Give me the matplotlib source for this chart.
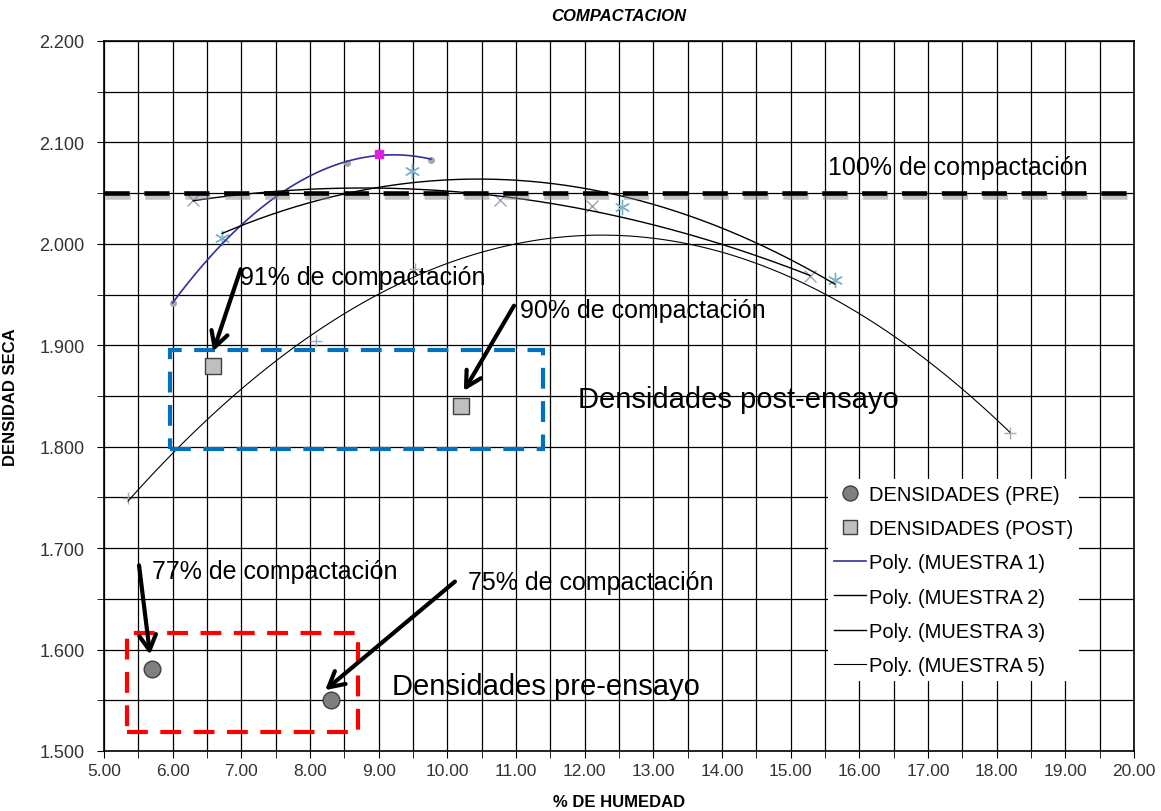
import numpy as np
import matplotlib.pyplot as plt
from matplotlib import patheffects as pe
from matplotlib.patches import Rectangle
from matplotlib.ticker import MultipleLocator, FormatStrFormatter

plt.rcParams['font.family'] = ['Liberation Sans', 'DejaVu Sans']

# ensayos proctor por muestra (% humedad, densidad seca)
m1_x = [6.00, 8.54, 9.00, 9.76]
m1_y = [1.942, 2.080, 2.089, 2.083]
m2_x = [6.30, 10.76, 12.10, 15.28]
m2_y = [2.043, 2.043, 2.037, 1.968]
m3_x = [6.72, 9.48, 12.54, 15.64]
m3_y = [2.006, 2.072, 2.036, 1.964]
m5_x = [5.35, 8.09, 9.53, 18.19]
m5_y = [1.749, 1.904, 1.975, 1.814]

# densidades de campo
pre_x = [5.70, 8.30]
pre_y = [1.581, 1.550]
post_x = [6.59, 10.20]
post_y = [1.880, 1.840]

dens_max = 2.050
pct_pre = [77, 75]
pct_post = [91, 90]


def trend(x, y, deg=2):
    c = np.polyfit(x, y, deg)
    xs = np.linspace(min(x), max(x), 300)
    return xs, np.polyval(c, xs)


fig = plt.figure(figsize=(11.61, 8.12), dpi=100)
ax = fig.add_axes([0.0896, 0.0739, 0.8872, 0.8744])

ax.set_xlim(5, 20)
ax.set_ylim(1.5, 2.2)
ax.xaxis.set_major_locator(MultipleLocator(1))
ax.xaxis.set_minor_locator(MultipleLocator(0.5))
ax.yaxis.set_major_locator(MultipleLocator(0.1))
ax.yaxis.set_minor_locator(MultipleLocator(0.05))
ax.xaxis.set_major_formatter(FormatStrFormatter('%.2f'))
ax.yaxis.set_major_formatter(FormatStrFormatter('%.3f'))
ax.grid(which='both', color='black', lw=0.9, zorder=0)
ax.set_axisbelow(True)
ax.tick_params(which='both', direction='out', length=5, color='black')
ax.tick_params(labelsize=12.5, labelcolor='#333333')
ax.tick_params(axis='y', pad=9, labelsize=13)
for s in ax.spines.values():
    s.set_linewidth(1.2)

# puntos de cada muestra
ax.plot(m1_x, m1_y, 'o', ms=4, color='#a6a6a6', zorder=3)
imax = int(np.argmax(m1_y))
ax.plot(m1_x[imax], m1_y[imax], 's', ms=6, color='#e020e0', zorder=4)
ax.plot(m2_x, m2_y, 'x', ms=9, mew=1, color='#a0a0bc', zorder=3)
ax.plot(m3_x, m3_y, marker=(6, 2, 0), ls='none', ms=11, mew=1, color='#7fb0cc', zorder=3)
ax.plot(m5_x, m5_y, '+', ms=9, mew=1, color='#a8a8bc', zorder=3)

# lineas de tendencia polinomicas
h1, = ax.plot(*trend(m1_x, m1_y), color='#30309a', lw=1.2, zorder=3)
h2, = ax.plot(*trend(m2_x, m2_y), color='black', lw=1.0, zorder=3)
h3, = ax.plot(*trend(m3_x, m3_y), color='black', lw=1.0, zorder=3)
h5, = ax.plot(*trend(m5_x, m5_y), color='black', lw=0.8, zorder=3)

# 100% compactacion
ax.plot([5, 20], [dens_max, dens_max], color='black', lw=3.3,
        ls=(0, (5.5, 3.2)), zorder=5,
        path_effects=[pe.SimpleLineShadow(offset=(1, -3), shadow_color='#888888', alpha=0.5),
                      pe.Normal()])

hpre, = ax.plot(pre_x, pre_y, 'o', ms=12, mfc='#7f7f7f', mec='#404040', mew=1, zorder=6)
hpost, = ax.plot(post_x, post_y, 's', ms=11, mfc='#bfbfbf', mec='#404040', mew=1, zorder=6)

# recuadros
ax.add_patch(Rectangle((5.96, 1.798), 11.39 - 5.96, 1.895 - 1.798, fill=False,
                       ec='#0070c0', lw=3, ls=(0, (5, 3)), zorder=5))
ax.add_patch(Rectangle((5.33, 1.519), 8.70 - 5.33, 1.616 - 1.519, fill=False,
                       ec='#ff0000', lw=3, ls=(0, (5, 3)), zorder=5))

tkw = dict(fontsize=18, va='center', ha='left', zorder=7)
ax.text(15.54, 2.076, '100% de compactación', **tkw)
ax.text(6.98, 1.967, f'{pct_post[0]}% de compactación', **tkw)
ax.text(11.06, 1.935, f'{pct_post[1]}% de compactación', **tkw)
ax.text(5.70, 1.677, f'{pct_pre[0]}% de compactación', **tkw)
ax.text(10.30, 1.667, f'{pct_pre[1]}% de compactación', **tkw)
ax.text(11.90, 1.847, 'Densidades post-ensayo', fontsize=21, va='center', zorder=7)
ax.text(9.19, 1.564, 'Densidades pre-ensayo', fontsize=21, va='center', zorder=7)

aprops = dict(arrowstyle='->,head_length=0.55,head_width=0.3', lw=3, color='black',
              mutation_scale=20, shrinkA=0, shrinkB=0)
ax.annotate('', xy=(post_x[0], 1.894), xytext=(6.99, 1.975), arrowprops=aprops, zorder=7)
ax.annotate('', xy=(post_x[1] + 0.04, 1.855), xytext=(10.97, 1.939), arrowprops=aprops, zorder=7)
ax.annotate('', xy=(pre_x[0] - 0.03, 1.595), xytext=(5.51, 1.683), arrowprops=aprops, zorder=7)
ax.annotate('', xy=(8.22, 1.560), xytext=(10.11, 1.667), arrowprops=aprops, zorder=7)

leg = ax.legend([hpre, hpost, h1, h2, h3, h5],
                ['DENSIDADES (PRE)', 'DENSIDADES (POST)', 'Poly. (MUESTRA 1)',
                 'Poly. (MUESTRA 2)', 'Poly. (MUESTRA 3)', 'Poly. (MUESTRA 5)'],
                loc='upper left', bbox_to_anchor=(0.693, 0.397), fontsize=14.5,
                frameon=True, fancybox=False, edgecolor='none', facecolor='white',
                framealpha=1, handlelength=1.6, handletextpad=0.15, labelspacing=0.75,
                borderpad=0.3, markerscale=0.9)
leg.set_zorder(8)

ax.set_title('COMPACTACION', fontsize=12, fontweight='bold', style='italic', pad=15)
ax.set_xlabel('% DE HUMEDAD', fontsize=12, fontweight='bold', labelpad=12)
ax.set_ylabel('DENSIDAD SECA', fontsize=12, fontweight='bold', labelpad=15)

fig.savefig('out.png', dpi=100)
